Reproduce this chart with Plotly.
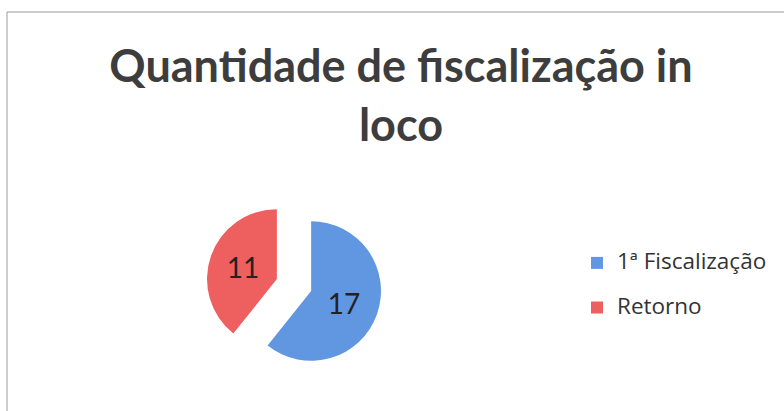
import plotly.graph_objects as go

labels = ["1ª Fiscalização", "Retorno"]
values = [17, 11]
colors = ["#6196e0", "#ee5f5f"]
title_text = "Quantidade de fiscalização in<br>loco"

W, H = 784, 411

legend_labels = ["<span style='font-size:22.5px'>" + l + "</span><br> " for l in labels]

fig = go.Figure(go.Pie(
    labels=legend_labels,
    values=values,
    marker=dict(colors=colors),
    sort=False,
    direction="clockwise",
    rotation=0,
    pull=[0.26, 0.26],
    textinfo="value",
    textposition="inside",
    insidetextorientation="horizontal",
    textfont=dict(family="Lato", size=28, color="#222222"),
    domain=dict(x=[206 / W, 382 / W], y=[1 - 373 / H, 1 - 197 / H]),
    hovertemplate="%{value}<extra></extra>",
))

fig.update_layout(
    width=W, height=H,
    margin=dict(l=0, r=0, t=0, b=0),
    paper_bgcolor="white",
    plot_bgcolor="white",
    title=dict(text=title_text, x=401 / W, xanchor="center",
               y=1 - 82 / H, yanchor="top", yref="container",
               font=dict(family="Lato", size=45, color="#3d3d3d", weight="bold")),
    legend=dict(x=577 / W, y=1 - 246 / H, xanchor="left", yanchor="top",
                valign="top",
                font=dict(family="Open Sans", size=16, color="#333333"),
                bgcolor="rgba(0,0,0,0)"),
    shapes=[dict(type="rect", xref="paper", yref="paper",
                 x0=7 / W, x1=1.02, y0=-0.02, y1=1 - 12 / H,
                 line=dict(color="#9a9a9a", width=1))],
)

fig.write_html("out.html")
